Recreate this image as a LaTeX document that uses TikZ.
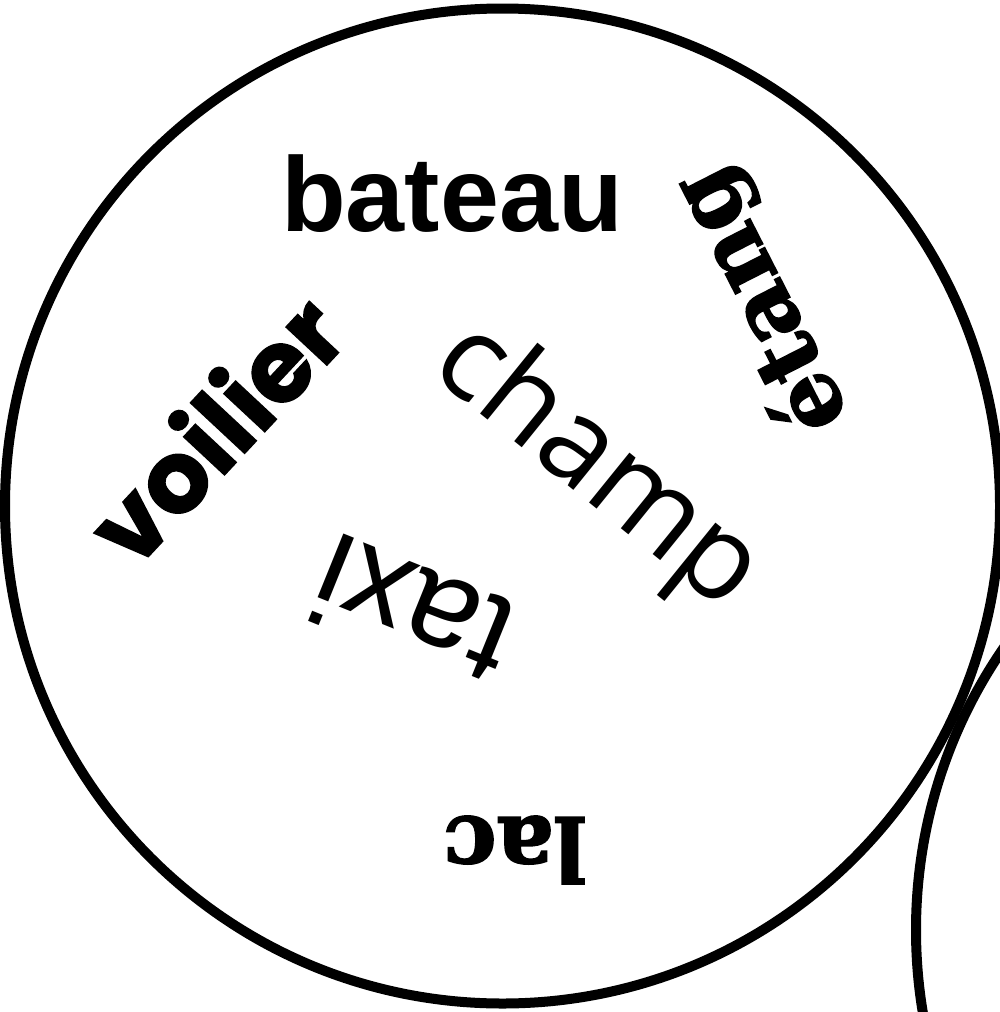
\documentclass[tikz,border=0pt]{standalone}
\usepackage{fontspec}
\setmainfont{Liberation Sans}
\newfontfamily\fArial{Liberation Sans}
\newfontfamily\fOpen{Open Sans}
\newfontfamily\fPop{Poppins}[BoldFeatures={FakeBold=1.5}]
\newfontfamily\fSerif{DejaVu Serif}[BoldFeatures={FakeBold=2}]
\tikzset{
  ring/.style={draw=black, line width=10pt},
  word/.style={inner sep=0pt, outer sep=0pt, text=black},
}
\begin{document}
\begin{tikzpicture}[x=1pt,y=-1pt]
  \clip (0,0) rectangle (1000,1012);
  \fill[white] (0,0) rectangle (1000,1012);
  \node[ring, circle, minimum size=995pt, inner sep=0pt] (big) at (502.5,506) {};
  \node[ring, circle, minimum size=995pt, inner sep=0pt] (second) at (1413.5,930) {};
  \node[word, anchor=base] (bateau) at (452,231) {\fArial\bfseries\fontsize{106pt}{110pt}\selectfont bateau};
  \node[word, rotate=117] (etang) at (762,300) {\fSerif\bfseries\fontsize{90pt}{95pt}\selectfont étang};
  \node[word, rotate=47] (voilier) at (214,428) {\fPop\bfseries\fontsize{100pt}{105pt}\selectfont voilier};
  \node[word, rotate=-39] (champ) at (596,468) {\fOpen\fontsize{120pt}{125pt}\selectfont champ};
  \node[word, rotate=158] (taxi) at (412,612) {\fArial\fontsize{130pt}{135pt}\selectfont taxi};
  \node[word, rotate=180] (lac) at (515,850) {\fSerif\bfseries\fontsize{88pt}{95pt}\selectfont lac};
\end{tikzpicture}
\end{document}
